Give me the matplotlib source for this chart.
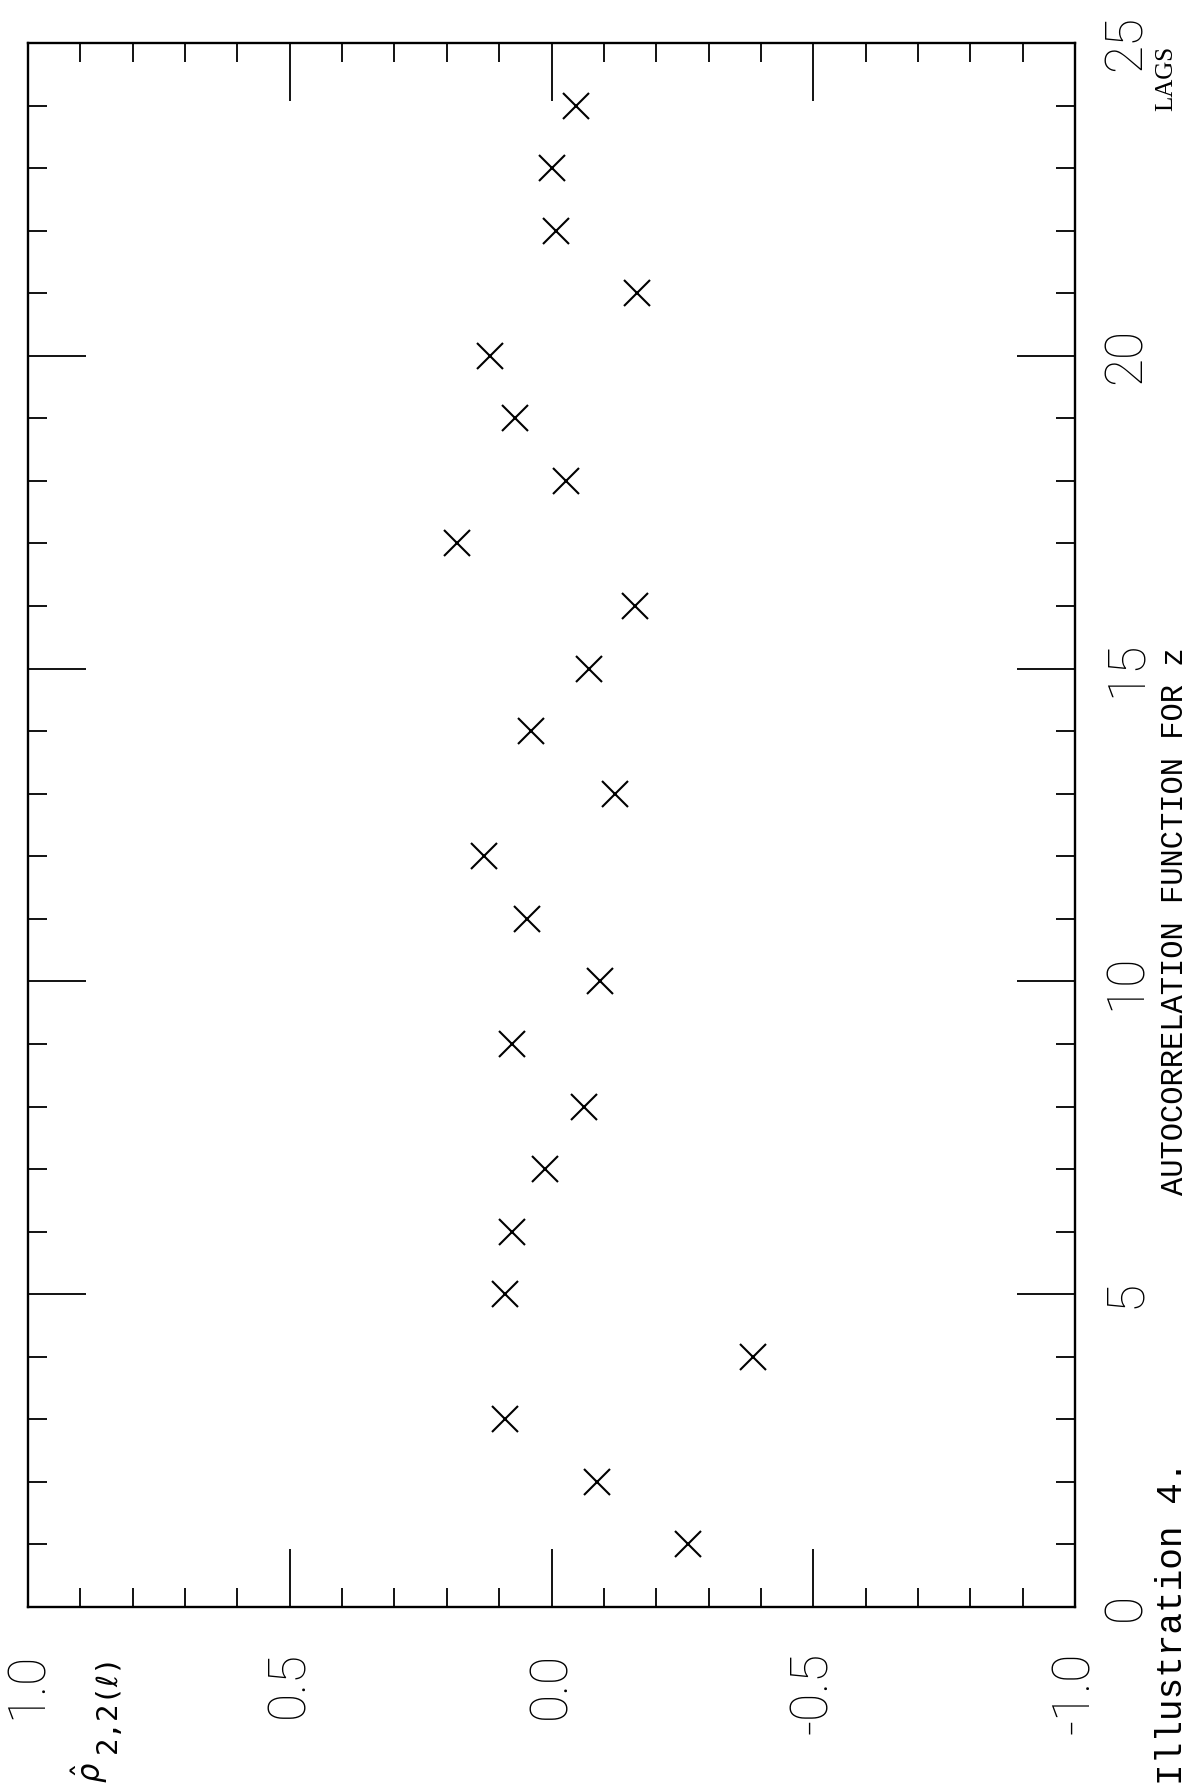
import matplotlib
matplotlib.use('Agg')
import matplotlib.pyplot as plt
from matplotlib.ticker import MultipleLocator

# ---- data ----
lags = list(range(1, 25))
acf = [-0.260, -0.086, 0.089, -0.384, 0.089, 0.076, 0.012, -0.063,
       0.075, -0.092, 0.047, 0.129, -0.122, 0.039, -0.071, -0.160,
       0.181, -0.027, 0.070, 0.118, -0.164, -0.009, 0.000, -0.047]

value_ticks = [1.0, 0.5, 0.0, -0.5, -1.0]
value_labels = ["1.0", "0.5", "0.0", "-0.5", "-1.0"]
lag_ticks = [0, 5, 10, 15, 20, 25]
lag_labels = ["0", "5", "10", "15", "20", "25"]

caption_a = "Illustration 4."
caption_b = "AUTOCORRELATION FUNCTION FOR z"

W, H = 1191, 1791
fig = plt.figure(figsize=(W / 100, H / 100), dpi=100)
fig.patch.set_facecolor('white')

ax = fig.add_axes([28 / W, (H - 1607) / H, (1075 - 28) / W, (1607 - 43) / H])
ax.plot(acf, lags, linestyle='none', marker='x', ms=19, mew=1.5, color='black')

ax.set_xlim(1.0, -1.0)
ax.set_ylim(0, 25)
ax.set_xticks(value_ticks)
ax.set_xticklabels(value_labels)
ax.xaxis.set_minor_locator(MultipleLocator(0.1))
ax.set_yticks(lag_ticks)
ax.set_yticklabels(lag_labels)
ax.yaxis.set_minor_locator(MultipleLocator(1))

ax.tick_params(which='both', direction='in', top=True, bottom=True,
               left=True, right=True, labelleft=False, labelright=True,
               labelbottom=True, labeltop=False, width=1.3, color='black')
ax.tick_params(which='major', length=42)
ax.tick_params(which='minor', length=14)
ax.tick_params(axis='x', which='major', pad=32)
ax.tick_params(axis='y', which='major', pad=19)

for s in ax.spines.values():
    s.set_linewidth(1.7)
    s.set_color('black')

label_font = dict(family='Roboto', weight='light', size=37)
for t in ax.xaxis.get_major_ticks():
    for lbl in (t.label1, t.label2):
        lbl.set_rotation(90)
        lbl.set_ha('center')
        lbl.set_va('top')
        lbl.set_fontfamily(label_font['family'])
        lbl.set_fontweight(label_font['weight'])
        lbl.set_fontsize(label_font['size'])
        lbl.set_color('black')
for t in ax.yaxis.get_major_ticks():
    for lbl in (t.label1, t.label2):
        lbl.set_rotation(90)
        lbl.set_ha('left')
        lbl.set_va('center')
        lbl.set_fontfamily(label_font['family'])
        lbl.set_fontweight(label_font['weight'])
        lbl.set_fontsize(label_font['size'])
        lbl.set_color('black')

# axis name texts
fig.text(1166 / W, 1 - 78 / H, "LAGS", rotation=90, ha='center', va='center',
         fontsize=18, family='Liberation Serif')
fig.text(90 / W, 1 - 1772 / H, r'$\hat{\rho}$', rotation=90, ha='center',
         va='center', fontsize=22)
fig.text(108 / W, 1 - 1703 / H, "2,2(\u2113)", rotation=90, ha='center',
         va='center', fontsize=21, family=['DejaVu Sans Mono', 'DejaVu Sans'])

# caption along the right edge of the page
fig.text(1190 / W, 6 / H, caption_a, rotation=90, ha='right', va='bottom',
         fontsize=26, family='Liberation Mono')
fig.text(1190 / W, 1 - 1195 / H, caption_b, rotation=90, ha='right', va='bottom',
         fontsize=22, family='Liberation Mono')

fig.savefig('out.png', dpi=100, facecolor='white')
